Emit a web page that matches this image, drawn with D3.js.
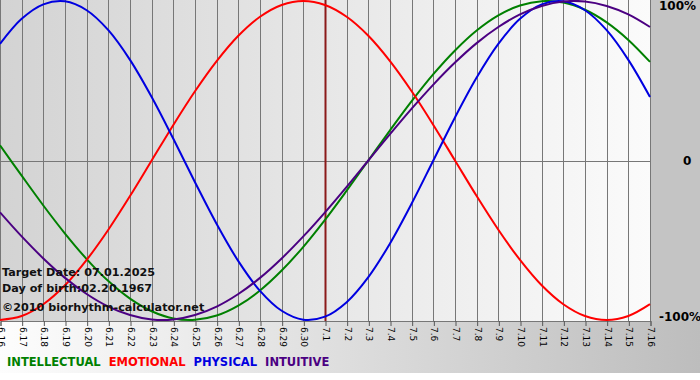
<!DOCTYPE html>
<html>
<head>
<meta charset="utf-8">
<script src="https://cdn.jsdelivr.net/npm/d3@7"></script>
<style>
  html, body { margin: 0; padding: 0; background: #fff; }
  svg { display: block; }
</style>
</head>
<body>
<script>
// day labels, 16 June .. 16 July
const days = ['6.16', '6.17', '6.18', '6.19', '6.20', '6.21', '6.22', '6.23', '6.24', '6.25',
  '6.26', '6.27', '6.28', '6.29', '6.30', '7.1', '7.2', '7.3', '7.4', '7.5', '7.6', '7.7',
  '7.8', '7.9', '7.10', '7.11', '7.12', '7.13', '7.14', '7.15', '7.16'];
const targetDay = '7.1';

// daily values, -1 .. 1
const intellectual = [0.095, -0.095, -0.282, -0.458, -0.618, -0.756, -0.866, -0.945, -0.990, -0.999,
  -0.972, -0.910, -0.815, -0.690, -0.541, -0.372, -0.189, 0, 0.189, 0.372, 0.541, 0.690,
  0.815, 0.910, 0.972, 0.999, 0.990, 0.945, 0.866, 0.756, 0.618];
const emotional = [-1, -0.975, -0.901, -0.782, -0.623, -0.434, -0.223, 0, 0.223, 0.434,
  0.623, 0.782, 0.901, 0.975, 1, 0.975, 0.901, 0.782, 0.623, 0.434, 0.223, 0,
  -0.223, -0.434, -0.623, -0.782, -0.901, -0.975, -1, -0.975, -0.901];
const physical = [0.731, 0.888, 0.979, 0.998, 0.942, 0.817, 0.631, 0.398, 0.136, -0.136,
  -0.398, -0.631, -0.817, -0.942, -0.998, -0.979, -0.888, -0.731, -0.520, -0.270, 0, 0.270,
  0.520, 0.731, 0.888, 0.979, 0.998, 0.942, 0.817, 0.631, 0.398];
const intuitive = [-0.325, -0.476, -0.614, -0.736, -0.837, -0.916, -0.969, -0.997, -0.997, -0.969,
  -0.916, -0.837, -0.736, -0.614, -0.476, -0.325, -0.165, 0, 0.165, 0.325, 0.476, 0.614,
  0.736, 0.837, 0.916, 0.969, 0.997, 0.997, 0.969, 0.916, 0.837];

const seriesNames = ['INTELLECTUAL', 'EMOTIONAL', 'PHYSICAL', 'INTUITIVE'];
const seriesColors = ['#008000', '#ff0000', '#0000e0', '#4b0082'];
const seriesValues = [intellectual, emotional, physical, intuitive];
const yTicks = [1, 0, -1];
const yTickLabels = ['100%', '0', '-100%'];
const infoLines = ['Target Date: 07.01.2025', 'Day of birth:02.20.1967', '\u00a92010 biorhythm-calculator.net'];

const width = 700;
const height = 380;
const plot = { left: 0, right: 651, top: 1, bottom: 321 };
const font = 'Verdana, "DejaVu Sans", sans-serif';

const svg = d3.select('body').append('svg')
  .attr('width', width)
  .attr('height', height);

const defs = svg.append('defs');
const gPlot = defs.append('linearGradient').attr('id', 'plotbg');
gPlot.append('stop').attr('offset', '0%').attr('stop-color', '#d3d3d3');
gPlot.append('stop').attr('offset', '100%').attr('stop-color', '#fbfbfb');
const gBottom = defs.append('linearGradient').attr('id', 'bottombg');
gBottom.append('stop').attr('offset', '0%').attr('stop-color', '#fdfdfd');
gBottom.append('stop').attr('offset', '100%').attr('stop-color', '#bdbdbd');

// backgrounds
svg.append('rect')
  .attr('x', 0).attr('y', plot.bottom)
  .attr('width', width).attr('height', 373 - plot.bottom)
  .attr('fill', 'url(#bottombg)');
svg.append('rect')
  .attr('x', plot.right).attr('y', 0)
  .attr('width', width - plot.right).attr('height', plot.bottom)
  .attr('fill', '#c4c4c4');
svg.append('rect')
  .attr('x', plot.left).attr('y', 0)
  .attr('width', plot.right - plot.left).attr('height', plot.bottom)
  .attr('fill', 'url(#plotbg)');

const x = d3.scalePoint()
  .domain(days)
  .range([plot.left, plot.right - 1]);

const y = d3.scaleLinear()
  .domain([-1, 1])
  .range([plot.bottom - 1, plot.top]);

// vertical grid
svg.append('g')
  .selectAll('line')
  .data(days)
  .join('line')
  .attr('x1', (d) => Math.round(x(d)) + 0.5)
  .attr('x2', (d) => Math.round(x(d)) + 0.5)
  .attr('y1', 0)
  .attr('y2', plot.bottom)
  .attr('stroke', '#777')
  .attr('stroke-width', 1);

// zero line
svg.append('line')
  .attr('x1', plot.left).attr('x2', plot.right)
  .attr('y1', Math.round(y(0)) + 0.5).attr('y2', Math.round(y(0)) + 0.5)
  .attr('stroke', '#777');

// x axis, rotated labels
const xAxis = svg.append('g')
  .attr('transform', `translate(0.5,${plot.bottom})`)
  .call(d3.axisBottom(x).tickSize(5).tickPadding(2));
xAxis.select('.domain').attr('stroke', '#777');
xAxis.selectAll('.tick line').attr('stroke', '#555');
xAxis.selectAll('.tick text')
  .attr('transform', 'rotate(90)')
  .attr('x', 6)
  .attr('y', 0)
  .attr('dy', '0.35em')
  .attr('text-anchor', 'start')
  .attr('font-family', font)
  .attr('font-size', 9)
  .attr('fill', '#000');

// y labels on the right
svg.append('g')
  .selectAll('text')
  .data(yTicks)
  .join('text')
  .attr('x', (d, i) => i === 1 ? 683 : 659)
  .attr('y', (d) => y(d))
  .attr('dy', (d) => d === 1 ? '0.75em' : (d === 0 ? '0.35em' : '0.1em'))
  .attr('font-family', font)
  .attr('font-weight', 'bold')
  .attr('font-size', 12)
  .attr('fill', '#000')
  .text((d, i) => yTickLabels[i]);

// target day marker
svg.append('line')
  .attr('x1', x(targetDay) + 0.5).attr('x2', x(targetDay) + 0.5)
  .attr('y1', 0).attr('y2', plot.bottom)
  .attr('stroke', '#8b1a1a')
  .attr('stroke-width', 2);

// curves
const line = d3.line()
  .x((d, i) => x(days[i]))
  .y((d) => y(d))
  .curve(d3.curveCatmullRom);

svg.append('g')
  .selectAll('path')
  .data(seriesValues)
  .join('path')
  .attr('d', line)
  .attr('fill', 'none')
  .attr('stroke', (d, i) => seriesColors[i])
  .attr('stroke-width', 2);

// info text
svg.append('g')
  .selectAll('text')
  .data(infoLines)
  .join('text')
  .attr('x', 2)
  .attr('y', (d, i) => [276, 292, 311][i])
  .attr('font-family', font)
  .attr('font-weight', 'bold')
  .attr('font-size', 11.2)
  .attr('fill', '#111')
  .text((d) => d);

// legend
const legend = svg.append('text')
  .attr('x', 7)
  .attr('y', 366)
  .attr('font-family', font)
  .attr('font-weight', 'bold')
  .attr('font-size', 11.5)
  .attr('word-spacing', 4);
seriesNames.forEach((name, i) => {
  legend.append('tspan')
    .attr('fill', seriesColors[i])
    .text((i ? ' ' : '') + name);
});
</script>
</body>
</html>
